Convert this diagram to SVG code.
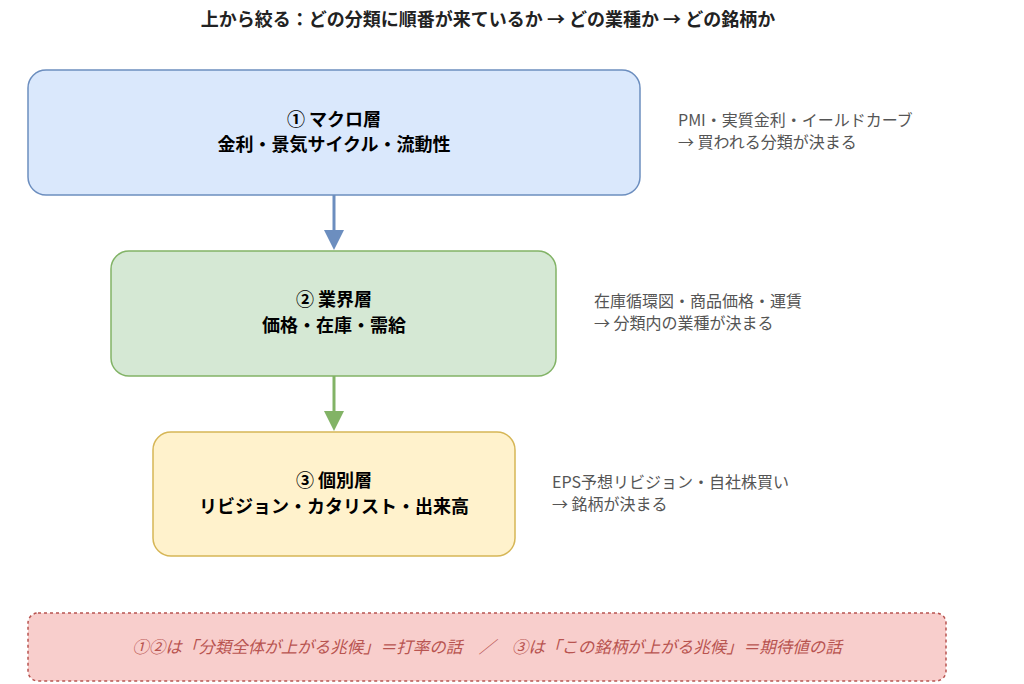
<svg xmlns="http://www.w3.org/2000/svg" width="1024" height="684" viewBox="0 0 1024 684">
<style>
text{font-family:"Noto Sans CJK JP","Noto Sans",sans-serif;}
.t{font-size:18px;font-weight:bold;fill:#000;text-anchor:middle}
.n{font-size:16px;fill:#555}
.h{font-size:18px;font-weight:bold;fill:#222;text-anchor:middle}
.f{font-size:16.5px;font-style:italic;fill:#b85450;text-anchor:middle}
</style>
<rect width="1024" height="684" fill="#fff"/>
<text class="h" x="488" y="26">上から絞る：どの分類に順番が来ているか → どの業種か → どの銘柄か</text>
<g id="connectors">
<line x1="334" y1="195" x2="334" y2="234" stroke="#6c8ebf" stroke-width="3"/>
<path d="M324,230L334,250L344,230z" fill="#6c8ebf"/>
<line x1="334" y1="376" x2="334" y2="415" stroke="#82b366" stroke-width="3"/>
<path d="M324,411L334,431L344,411z" fill="#82b366"/>
</g>
<g id="macro">
<rect x="28" y="70" width="612" height="125" rx="18" fill="#dae8fc" stroke="#6c8ebf" stroke-width="1.5"/>
<text class="t" x="334" y="126">① マクロ層</text>
<text class="t" x="334" y="151">金利・景気サイクル・流動性</text>
</g>
<g id="sector">
<rect x="111" y="251" width="445" height="125" rx="18" fill="#d5e8d4" stroke="#82b366" stroke-width="1.5"/>
<text class="t" x="334" y="306">② 業界層</text>
<text class="t" x="334" y="332">価格・在庫・需給</text>
</g>
<g id="stock">
<rect x="153" y="432" width="362" height="124" rx="18" fill="#fff2cc" stroke="#d6b656" stroke-width="1.5"/>
<text class="t" x="334" y="487">③ 個別層</text>
<text class="t" x="334" y="513">リビジョン・カタリスト・出来高</text>
</g>
<g id="notes">
<text class="n" x="678" y="126">PMI・実質金利・イールドカーブ</text>
<text class="n" x="678" y="148">→ 買われる分類が決まる</text>
<text class="n" x="594" y="307">在庫循環図・商品価格・運賃</text>
<text class="n" x="594" y="329">→ 分類内の業種が決まる</text>
<text class="n" x="552" y="488">EPS予想リビジョン・自社株買い</text>
<text class="n" x="552" y="510">→ 銘柄が決まる</text>
</g>
<g id="footer">
<rect x="28" y="613" width="918" height="68" rx="10" fill="#f8cecc" stroke="#b85450" stroke-width="1.5" stroke-dasharray="3,3"/>
<text class="f" x="487" y="653">①②は「分類全体が上がる兆候」＝打率の話　／　③は「この銘柄が上がる兆候」＝期待値の話</text>
</g>
</svg>
